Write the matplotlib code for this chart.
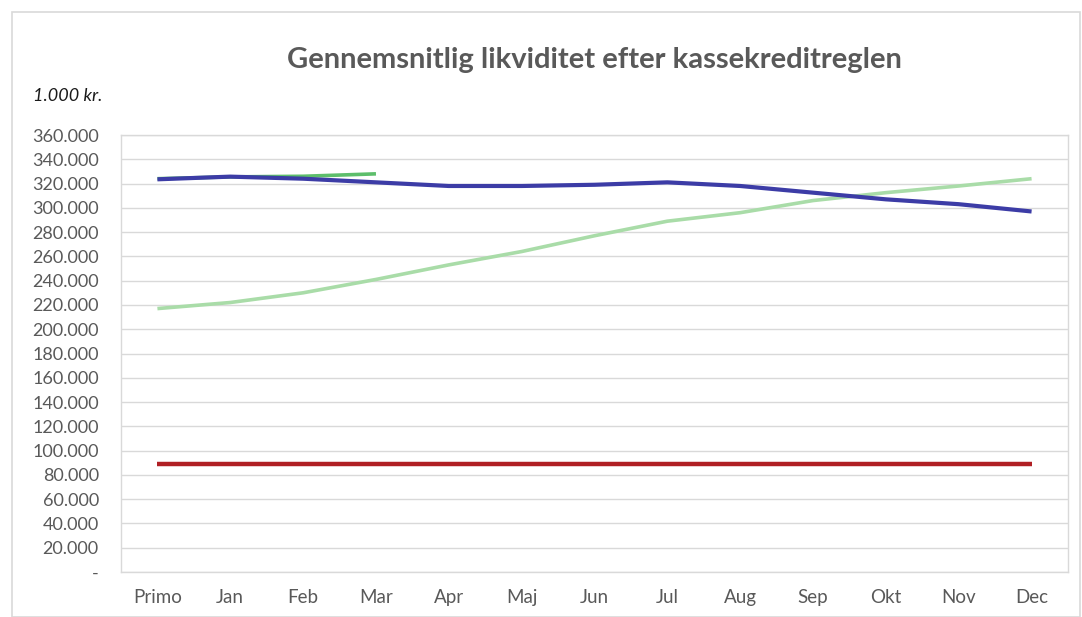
import matplotlib
matplotlib.use("Agg")
import matplotlib.pyplot as plt
from matplotlib.ticker import FuncFormatter, MultipleLocator
from matplotlib.patches import Rectangle

categories = ["Primo", "Jan", "Feb", "Mar", "Apr", "Maj", "Jun", "Jul", "Aug", "Sep", "Okt", "Nov", "Dec"]
light_green = [217000, 222000, 230000, 241000, 253000, 264000, 277000, 289000, 296000, 306000, 312500, 318000, 324000]
dark_green = [324000, 325500, 326000, 328000]
blue = [323500, 325700, 324000, 321000, 318000, 318000, 319000, 321000, 318000, 312500, 307000, 303000, 297000]
red = [89000] * 13

plt.rcParams['font.family'] = ['Lato', 'DejaVu Sans']
fig = plt.figure(figsize=(10.82, 6.17), dpi=100)
fig.patches.append(Rectangle((12/1082, 0), (1080-12)/1082, (617-12)/617, transform=fig.transFigure,
                             fill=False, edgecolor='#D9D9D9', linewidth=1.2))
ax = fig.add_axes([121/1082, 1-572/617, (1068-121)/1082, (572-135)/617])

x = list(range(len(categories)))
ax.plot(x, red, color='#B01F24', linewidth=3.2, solid_capstyle='butt', zorder=3)
ax.plot(x, light_green, color='#A9DCA8', linewidth=2.6, solid_capstyle='butt', zorder=3)
ax.plot(x[:len(dark_green)], dark_green, color='#5DBE6B', linewidth=2.6, solid_capstyle='butt', zorder=3)
ax.plot(x, blue, color='#3C3CA6', linewidth=3.0, solid_capstyle='butt', zorder=4)

ax.set_xlim(-0.5, len(categories) - 0.5)
ax.set_ylim(0, 360000)
ax.yaxis.set_major_locator(MultipleLocator(20000))
ax.yaxis.set_major_formatter(FuncFormatter(lambda v, p: '-' if v == 0 else f"{int(v):,}".replace(',', '.')))
ax.set_xticks(x)
ax.set_xticklabels(categories)
ax.tick_params(axis='both', length=0, colors='#595959')
ax.tick_params(axis='x', pad=12, labelsize=13.5)
ax.tick_params(axis='y', pad=16, labelsize=13)
ax.grid(axis='y', color='#D9D9D9', linewidth=1)
ax.set_axisbelow(True)
for s in ax.spines.values():
    s.set_color('#D9D9D9')
    s.set_linewidth(1)

fig.text(594/1082, 1-60/617, "Gennemsnitlig likviditet efter kassekreditreglen", ha='center', va='center',
         fontsize=21, fontweight='bold', color='#595959')
fig.text(33/1082, 1-96/617, "1.000 kr.", ha='left', va='center', fontsize=13, style='italic', color='#1A1A1A')

fig.savefig("out.png", dpi=100)
